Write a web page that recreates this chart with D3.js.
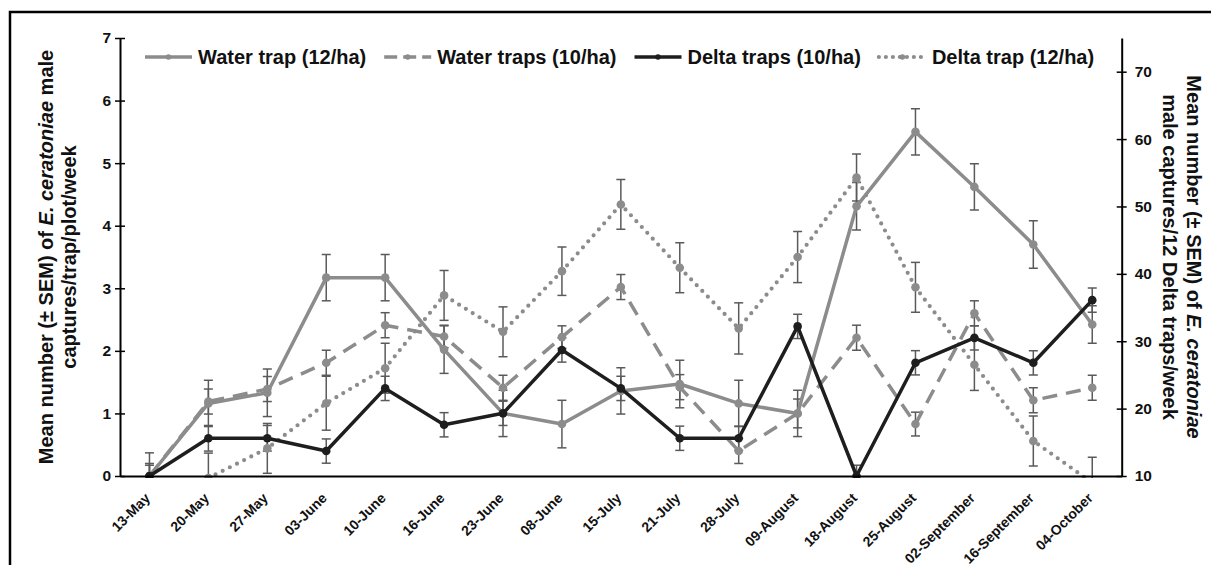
<!DOCTYPE html>
<html>
<head>
<meta charset="utf-8">
<script src="https://d3js.org/d3.v7.min.js"></script>
<style>
  body { margin: 0; background: #fff; }
  svg { display: block; font-family: "Liberation Sans", Arial, sans-serif; font-weight: bold; }
</style>
</head>
<body>
<div id="chart"></div>
<script>
// Sampling dates (category axis)
const dates = ["13-May", "20-May", "27-May", "03-June", "10-June", "16-June", "23-June", "08-June",
  "15-July", "21-July", "28-July", "09-August", "18-August", "25-August", "02-September",
  "16-September", "04-October"];

// Water traps, left axis (captures/trap/plot/week)
const water12 = [0, 1.16, 1.33, 3.17, 3.17, 2.02, 1.0, 0.83, 1.36, 1.47, 1.16, 1.0, 4.31, 5.5, 4.62, 3.7, 2.42];
const water12Err = [0.37, 0.37, 0.38, 0.37, 0.37, 0.38, 0.37, 0.38, 0.37, 0.38, 0.37, 0.37, 0.38, 0.37, 0.37, 0.38, 0.3];
const water10 = [0, 1.19, 1.39, 1.81, 2.41, 2.23, 1.41, 2.22, 3.02, 1.42, 0.4, 1.0, 2.21, 0.83, 2.6, 1.21, 1.41];
const water10Err = [0.2, 0.2, 0.2, 0.2, 0.2, 0.18, 0.2, 0.18, 0.2, 0.2, 0.2, 0.23, 0.2, 0.19, 0.2, 0.2, 0.2];

// Delta traps, right axis (captures/12 Delta traps/week)
const delta10 = [10, 15.6, 15.6, 13.7, 23.0, 17.6, 19.3, 28.7, 23.0, 15.6, 15.6, 32.2, 10, 26.8, 30.5, 26.8, 36.1];
const delta10Err = [1.6, 1.9, 1.9, 1.8, 1.8, 1.8, 1.8, 1.8, 1.8, 1.8, 1.8, 1.8, 1.6, 1.8, 1.8, 1.8, 1.8];
const delta12 = [null, 9.7, 14.1, 20.8, 26.0, 36.8, 31.4, 40.4, 50.3, 40.9, 31.9, 42.5, 54.3, 38.0, 26.5, 15.2, 9.0];
const delta12Err = [null, 3.7, 3.7, 4.0, 3.7, 3.7, 3.7, 3.6, 3.7, 3.7, 3.8, 3.8, 3.5, 3.7, 3.8, 3.7, 3.8];

const leftTicks = [0, 1, 2, 3, 4, 5, 6, 7];
const rightTicks = [10, 20, 30, 40, 50, 60, 70];

const W = 1211, H = 565;
const plot = { left: 120, right: 1121.7, top: 38, bottom: 476 };
const gray = "#8c8c8c", dark = "#1e1e1e", errColor = "#5a5a5a";

const svg = d3.select("#chart").append("svg")
  .attr("width", W)
  .attr("height", H);

// outer frame of the figure
svg.append("rect")
  .attr("x", 10).attr("y", 12)
  .attr("width", W + 20).attr("height", H + 20)
  .attr("fill", "none").attr("stroke", "#000").attr("stroke-width", 2.5);

const x = d3.scalePoint().domain(dates).range([plot.left, plot.right]).padding(0.5);
const yL = d3.scaleLinear().domain([0, 7]).range([plot.bottom, plot.top]);
const yR = d3.scaleLinear().domain([10, 75]).range([plot.bottom, plot.top]);

svg.append("clipPath").attr("id", "clip")
  .append("rect")
  .attr("x", plot.left).attr("y", plot.top - 10)
  .attr("width", plot.right - plot.left).attr("height", plot.bottom - plot.top + 12);

// series definitions
const series = [
  { name: "Water trap (12/ha)", values: water12, err: water12Err, y: yL, color: gray, dash: null, width: 3.5 },
  { name: "Water traps (10/ha)", values: water10, err: water10Err, y: yL, color: gray, dash: "15,9", width: 3.5 },
  { name: "Delta traps (10/ha)", values: delta10, err: delta10Err, y: yR, color: dark, dash: null, width: 3.5 },
  { name: "Delta trap (12/ha)", values: delta12, err: delta12Err, y: yR, color: gray, dash: "0,8", width: 4.2, round: true }
];

const g = svg.append("g").attr("clip-path", "url(#clip)");

// error bars
series.forEach(s => {
  const pts = dates.map((d, i) => ({ d, v: s.values[i], e: s.err[i] })).filter(p => p.v != null);
  const eb = g.append("g");
  eb.selectAll("line.v").data(pts).enter().append("line")
    .attr("x1", p => x(p.d)).attr("x2", p => x(p.d))
    .attr("y1", p => s.y(p.v - p.e)).attr("y2", p => s.y(p.v + p.e))
    .attr("stroke", errColor).attr("stroke-width", 1.5);
  [-1, 1].forEach(sign => {
    eb.selectAll("line.c" + sign).data(pts).enter().append("line")
      .attr("x1", p => x(p.d) - 4.5).attr("x2", p => x(p.d) + 4.5)
      .attr("y1", p => s.y(p.v + sign * p.e)).attr("y2", p => s.y(p.v + sign * p.e))
      .attr("stroke", errColor).attr("stroke-width", 1.5);
  });
});

// lines, drawn so the black series ends on top
[3, 1, 0, 2].forEach(k => {
  const s = series[k];
  const line = d3.line()
    .defined(v => v != null)
    .x((v, i) => x(dates[i]))
    .y(v => s.y(v));
  g.append("path")
    .datum(s.values)
    .attr("fill", "none")
    .attr("stroke", s.color)
    .attr("stroke-width", s.width)
    .attr("stroke-dasharray", s.dash)
    .attr("stroke-linecap", s.round ? "round" : "butt")
    .attr("stroke-linejoin", "round")
    .attr("d", line);
  g.selectAll(null)
    .data(s.values.map((v, i) => ({ v, d: dates[i] })).filter(p => p.v != null))
    .enter().append("circle")
    .attr("cx", p => x(p.d))
    .attr("cy", p => s.y(p.v))
    .attr("r", 4.3)
    .attr("fill", s.color);
});

// axes
const axL = svg.append("g")
  .attr("transform", `translate(${plot.left},0)`)
  .call(d3.axisLeft(yL).tickValues(leftTicks).tickFormat(d3.format("d"))
    .tickSize(5).tickSizeOuter(0).tickPadding(4));
axL.selectAll(".tick line").attr("x1", 5);

const axR = svg.append("g")
  .attr("transform", `translate(${plot.right},0)`)
  .call(d3.axisRight(yR).tickValues(rightTicks).tickFormat(d3.format("d"))
    .tickSize(5).tickSizeOuter(0).tickPadding(8));
axR.selectAll(".tick line").attr("x1", -5);

const axB = svg.append("g")
  .attr("transform", `translate(0,${plot.bottom})`)
  .call(d3.axisBottom(x).tickSize(0).tickSizeOuter(0));
axB.selectAll(".tick text")
  .attr("y", 0).attr("dy", 0)
  .attr("text-anchor", "end")
  .attr("transform", "translate(1,23) rotate(-45)")
  .style("font-size", "14px");

[axL, axR, axB].forEach(a => {
  a.select(".domain").attr("stroke", "#000").attr("stroke-width", 2);
  a.selectAll(".tick line").attr("stroke", "#000").attr("stroke-width", 1.5);
  a.selectAll("text").attr("fill", "#111").style("font-family", "'Liberation Sans', Arial, sans-serif").style("font-weight", "bold");
});
axL.selectAll(".tick text").style("font-size", "15.5px");
axR.selectAll(".tick text").style("font-size", "15.5px");

// axis titles
const titleSize = "20px";
function title(tx, rot, parts) {
  const t = svg.append("text")
    .attr("transform", `translate(${tx},${257}) rotate(${rot})`)
    .attr("text-anchor", "middle")
    .style("font-size", titleSize)
    .attr("fill", "#111");
  parts.forEach(p => t.append("tspan").text(p[0]).style("font-style", p[1] ? "italic" : "normal"));
}
title(53, -90, [["Mean number (± SEM) of ", false], ["E. ceratoniae", true], [" male", false]]);
title(76, -90, [["captures/trap/plot/week", false]]);
title(1187, 90, [["Mean number (± SEM) of ", false], ["E. ceratoniae", true]]);
title(1163, 90, [["male captures/12 Delta traps/week", false]]);

// legend
const legend = svg.append("g").attr("transform", "translate(145,57)");
let lx = 0;
series.forEach(s => {
  legend.append("line")
    .attr("x1", lx).attr("x2", lx + 47).attr("y1", 0).attr("y2", 0)
    .attr("stroke", s.color).attr("stroke-width", s.width)
    .attr("stroke-dasharray", s.dash ? (s.round ? "0,7" : "13,6") : null)
    .attr("stroke-linecap", s.round ? "round" : "butt");
  legend.append("circle").attr("cx", lx + 23.5).attr("cy", 0).attr("r", 2.8).attr("fill", s.color);
  const t = legend.append("text")
    .attr("x", lx + 53).attr("y", 7)
    .style("font-size", "20px")
    .attr("fill", "#111")
    .text(s.name);
  lx += 53 + t.node().getComputedTextLength() + 18;
});
</script>
</body>
</html>
